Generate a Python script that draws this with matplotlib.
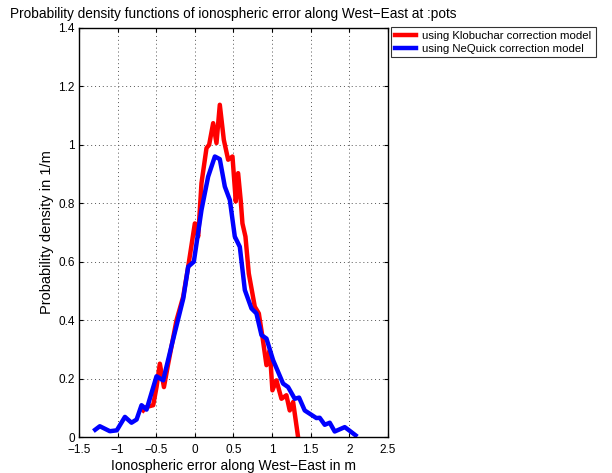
import matplotlib
matplotlib.use("Agg")
import matplotlib.pyplot as plt

plt.rcParams["font.family"] = ["Liberation Sans", "DejaVu Sans"]
plt.rcParams["axes.unicode_minus"] = True

# Klobuchar-corrected error PDF
klob_x = [-0.668, -0.625, -0.539, -0.496, -0.453, -0.40, -0.345, -0.237, -0.151,
          -0.086, 0.0, 0.043, 0.086, 0.151, 0.185, 0.237, 0.28, 0.323, 0.375,
          0.431, 0.487, 0.530, 0.560, 0.595, 0.616, 0.655, 0.698, 0.776, 0.828,
          0.875, 0.927, 0.970, 1.004, 1.056, 1.121, 1.185, 1.228, 1.272, 1.336]
klob_y = [0.091, 0.103, 0.109, 0.171, 0.251, 0.171, 0.251, 0.40, 0.48,
          0.583, 0.731, 0.686, 0.869, 0.989, 1.0, 1.074, 1.006, 1.137, 1.017,
          0.949, 0.96, 0.806, 0.903, 0.806, 0.731, 0.686, 0.56, 0.446, 0.423,
          0.343, 0.246, 0.297, 0.16, 0.194, 0.131, 0.143, 0.091, 0.12, 0.0]

# NeQuick-corrected error PDF
neq_x = [-1.29, -1.23, -1.10, -1.01, -0.905, -0.82, -0.754, -0.69, -0.625,
         -0.496, -0.41, -0.30, -0.15, -0.086, -0.013, 0.086, 0.172, 0.259,
         0.323, 0.388, 0.453, 0.517, 0.582, 0.647, 0.733, 0.797, 0.862, 0.927,
         1.013, 1.142, 1.207, 1.293, 1.349, 1.422, 1.573, 1.616, 1.681, 1.746,
         1.81, 1.94, 1.996, 2.08]
neq_y = [0.025, 0.037, 0.02, 0.023, 0.069, 0.049, 0.06, 0.109, 0.094,
         0.208, 0.194, 0.314, 0.474, 0.583, 0.60, 0.777, 0.891, 0.96,
         0.951, 0.857, 0.811, 0.686, 0.651, 0.503, 0.44, 0.423, 0.349, 0.337,
         0.263, 0.183, 0.171, 0.131, 0.135, 0.091, 0.065, 0.066, 0.042, 0.049,
         0.019, 0.034, 0.023, 0.006]

x_ticks = [-1.5, -1, -0.5, 0, 0.5, 1, 1.5, 2, 2.5]
x_tick_labels = ["\u22121.5", "\u22121", "\u22120.5", "0", "0.5", "1", "1.5", "2", "2.5"]
y_ticks = [0, 0.2, 0.4, 0.6, 0.8, 1, 1.2, 1.4]
y_tick_labels = ["0", "0.2", "0.4", "0.6", "0.8", "1", "1.2", "1.4"]

fig = plt.figure(figsize=(6.12, 4.73), dpi=100)
ax = fig.add_axes([0.129, 0.076, 0.505, 0.865])

ax.plot(klob_x, klob_y, color="#ff0000", lw=3.2, label="using Klobuchar correction model")
ax.plot(neq_x, neq_y, color="#0000ff", lw=3.2, label="using NeQuick correction model")

ax.set_xlim(-1.5, 2.5)
ax.set_ylim(0, 1.4)
ax.set_xticks(x_ticks)
ax.set_xticklabels(x_tick_labels)
ax.set_yticks(y_ticks)
ax.set_yticklabels(y_tick_labels)
ax.tick_params(direction="in", length=3, labelsize=8.5, top=True, right=True)
ax.tick_params(axis="x", pad=5)
ax.tick_params(axis="y", pad=3)
ax.grid(True, linestyle=(0, (1, 3)), color="#555555", lw=0.7)
for s in ax.spines.values():
    s.set_linewidth(1.0)

ax.set_xlabel("Ionospheric error along West\u2212East in m", fontsize=10, labelpad=2)
ax.set_ylabel("Probability density in 1/m", fontsize=10.5, labelpad=3)
ax.set_title("Probability density functions of ionospheric error along West\u2212East at :pots",
             fontsize=9.8, pad=7)

leg = ax.legend(loc="upper left", bbox_to_anchor=(1.01, 1.003), fontsize=8.2,
                frameon=True, fancybox=False, edgecolor="black",
                handlelength=1.8, handletextpad=0.6, borderpad=0.35,
                labelspacing=0.25, borderaxespad=0)
leg.get_frame().set_linewidth(0.8)

fig.savefig("out.png", dpi=100)
